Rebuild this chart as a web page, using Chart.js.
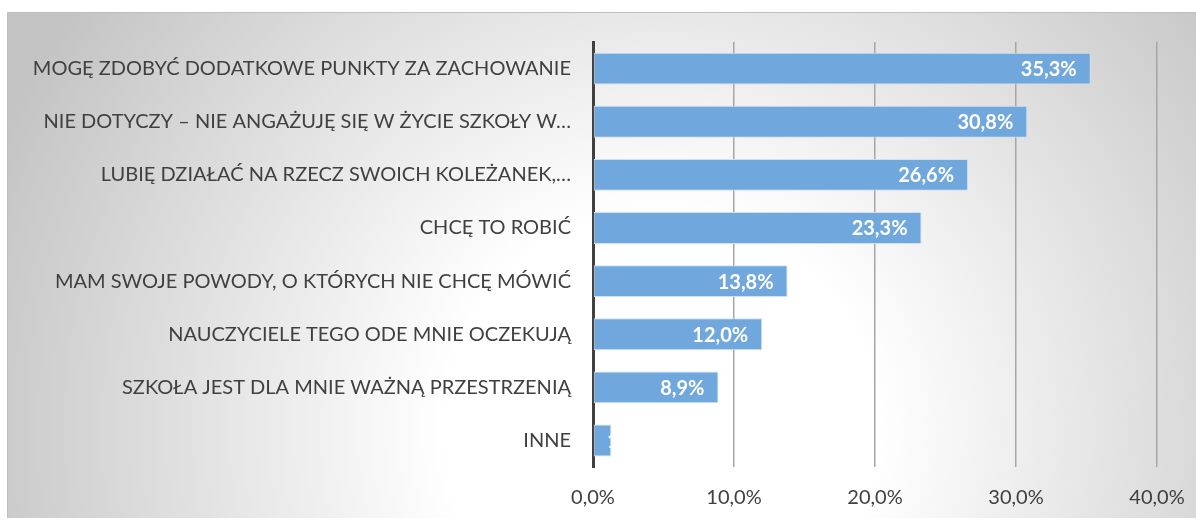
<!DOCTYPE html>
<html><head><meta charset="utf-8">
<script src="https://cdn.jsdelivr.net/npm/chart.js@4.4.0/dist/chart.umd.min.js"></script>
<style>html,body{margin:0;padding:0;background:#fff;}#wrap{width:1196px;height:521px;position:relative;}</style>
</head><body><div id="wrap"><canvas id="c" width="1196" height="521"></canvas></div>
<script>
const categories = [
  "MOGĘ ZDOBYĆ DODATKOWE PUNKTY ZA ZACHOWANIE",
  "NIE DOTYCZY – NIE ANGAŻUJĘ SIĘ W ŻYCIE SZKOŁY W…",
  "LUBIĘ DZIAŁAĆ NA RZECZ SWOICH KOLEŻANEK,…",
  "CHCĘ TO ROBIĆ",
  "MAM SWOJE POWODY, O KTÓRYCH NIE CHCĘ MÓWIĆ",
  "NAUCZYCIELE TEGO ODE MNIE OCZEKUJĄ",
  "SZKOŁA JEST DLA MNIE WAŻNĄ PRZESTRZENIĄ",
  "INNE"
];
const values = [35.3, 30.8, 26.6, 23.3, 13.8, 12.0, 8.9, 1.3];
const tickValues = [0, 10, 20, 30, 40];

const fmt = v => v.toFixed(1).replace('.', ',') + '%';

const bgPlugin = {
  id: 'bg',
  beforeDraw(chart) {
    const ctx = chart.ctx;
    ctx.save();
    const g = ctx.createRadialGradient(660, 430, 0, 660, 430, 720);
    g.addColorStop(0, '#ffffff');
    g.addColorStop(0.3, '#ffffff');
    g.addColorStop(1, '#c4c4c4');
    ctx.fillStyle = g;
    ctx.fillRect(7, 12, 1189, 506);
    ctx.strokeStyle = '#bfbfbf';
    ctx.lineWidth = 1;
    ctx.beginPath();
    ctx.moveTo(7.5, 518); ctx.lineTo(7.5, 12.5); ctx.lineTo(1196, 12.5);
    ctx.stroke();
    ctx.restore();
  }
};

const labelPlugin = {
  id: 'barLabels',
  afterDatasetsDraw(chart) {
    const ctx = chart.ctx;
    const meta = chart.getDatasetMeta(0);
    meta.data.forEach((bar, i) => {
      const left = Math.min(bar.base, bar.x);
      const w = Math.abs(bar.x - bar.base);
      const h = bar.height;
      ctx.save();
      ctx.beginPath();
      ctx.rect(left, bar.y - h / 2, w, h);
      ctx.clip();
      ctx.fillStyle = '#ffffff';
      ctx.font = 'bold 20px Lato, "Open Sans", sans-serif';
      ctx.textAlign = 'right';
      ctx.textBaseline = 'middle';
      let x = bar.x - 14;
      if (i === values.length - 1) { x = bar.x + 40; }
      ctx.fillText(fmt(values[i]), x, bar.y + 1);
      ctx.restore();
    });
  }
};

new Chart(document.getElementById('c'), {
  type: 'bar',
  data: {
    labels: categories,
    datasets: [{
      data: values,
      backgroundColor: '#70a7dc',
      borderColor: '#cfe0f2',
      borderWidth: 1,
      borderSkipped: false,
      barPercentage: 0.6,
      categoryPercentage: 1.0
    }]
  },
  options: {
    indexAxis: 'y',
    responsive: false,
    animation: false,
    layout: { padding: { left: 7, right: 39, top: 42, bottom: 0 } },
    plugins: { legend: { display: false }, tooltip: { enabled: false } },
    scales: {
      x: {
        min: 0, max: 40,
        afterBuildTicks(axis) { axis.ticks = tickValues.map(v => ({ value: v })); },
        afterFit(axis) { axis.height = 54; axis.paddingLeft = 0; axis.paddingRight = 0; },
        ticks: {
          callback: v => fmt(v),
          color: '#404040',
          font: { family: 'Lato, "Open Sans", sans-serif', size: 20 },
          padding: 19,
          maxRotation: 0
        },
        grid: {
          color: ctx => (ctx.tick && ctx.tick.value === 0) ? 'rgba(0,0,0,0)' : '#a6a6a6',
          lineWidth: 1.5,
          drawTicks: false
        },
        border: { display: false }
      },
      y: {
        afterFit(axis) { axis.width = 586; axis.paddingTop = 0; axis.paddingBottom = 0; },
        ticks: {
          color: '#404040',
          font: { family: 'Lato, "Open Sans", sans-serif', size: 20 },
          padding: 22
        },
        grid: { display: false, drawTicks: false },
        border: { display: true, color: '#404040', width: 3 }
      }
    }
  },
  plugins: [bgPlugin, labelPlugin]
});
</script>
</body></html>
